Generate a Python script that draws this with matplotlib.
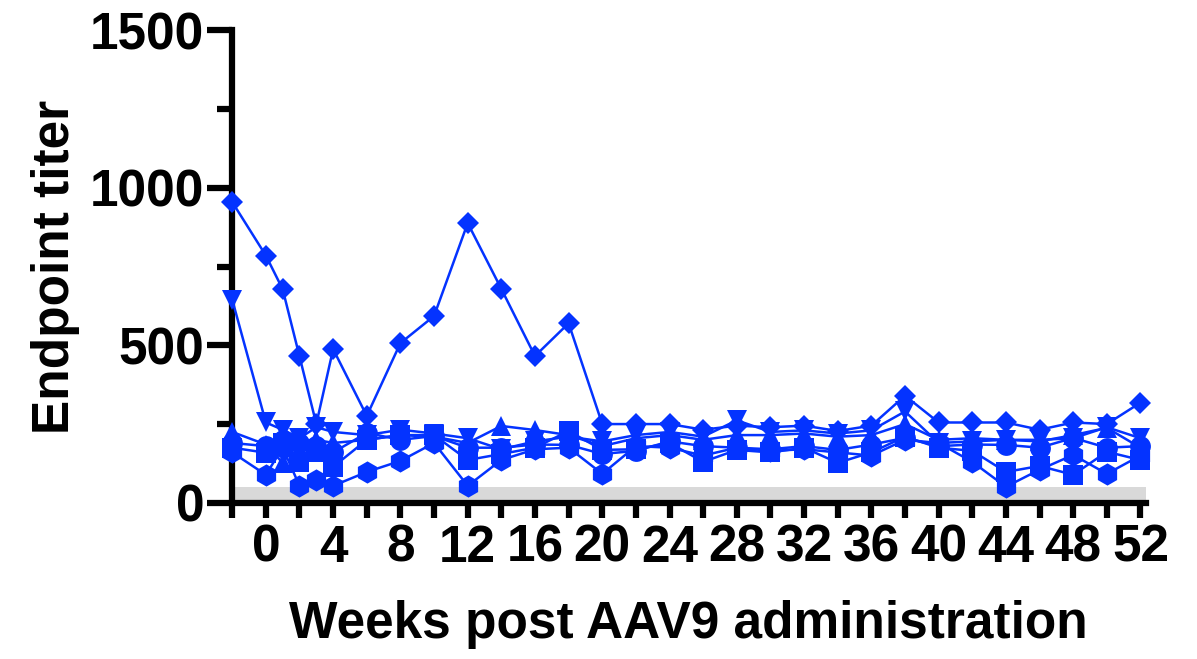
import matplotlib
matplotlib.use("Agg")
import matplotlib.pyplot as plt
from matplotlib.ticker import MultipleLocator

plt.rcParams['font.family'] = ['Liberation Sans', 'DejaVu Sans']
plt.rcParams['font.weight'] = 'bold'

# weeks post administration
weeks = [-2, 0, 1, 2, 3, 4, 6, 8, 10, 12, 14, 16, 18, 20, 22, 24, 26, 28, 30, 32,
         34, 36, 38, 40, 42, 44, 46, 48, 50, 52]

# endpoint titers, one list per animal (marker)
diamond = [955, 785, 678, 465, 250, 488, 276, 507, 593, 888, 679, 466, 570, 250, 250,
           250, 232, 245, 240, 245, 228, 245, 340, 255, 255, 255, 232, 255, 250, 318]
inv_triangle = [645, 255, 232, 205, 240, 225, 215, 232, 220, 205, 170, 195, 210, 195, 215,
                225, 210, 262, 225, 230, 220, 230, 290, 190, 195, 200, 200, 205, 240, 205]
triangle = [225, 185, 127, 195, 200, 190, 200, 215, 210, 190, 244, 231, 215, 180, 205,
            215, 200, 215, 215, 220, 210, 215, 250, 200, 205, 200, 195, 215, 238, 175]
square = [175, 159, 190, 130, 162, 114, 200, 215, 215, 136, 155, 175, 228, 168, 170,
          190, 130, 168, 160, 175, 127, 160, 210, 175, 165, 98, 117, 89, 162, 136]
circle = [190, 180, 200, 190, 180, 160, 222, 200, 212, 175, 175, 185, 184, 155, 165,
          195, 180, 175, 170, 180, 168, 185, 206, 180, 185, 184, 175, 206, 175, 180]
hexagon = [160, 89, 175, 54, 73, 54, 98, 133, 190, 54, 136, 170, 175, 92, 180,
           175, 150, 175, 165, 170, 160, 150, 200, 190, 130, 51, 105, 152, 92, 150]

series = [
    (hexagon, 'h', 16),
    (circle, 'o', 15),
    (square, 's', 14),
    (triangle, '^', 15),
    (inv_triangle, 'v', 15),
    (diamond, 'D', 11.5),
]

blue = '#0433FF'

fig = plt.figure(figsize=(11.97, 6.59), dpi=100)
ax = fig.add_axes([0.194, 0.237, 0.763, 0.717])

# limit of detection band
ax.axhspan(0, 50, color='#D9D9D9', zorder=0, lw=0)

for vals, m, ms in series:
    ax.plot(weeks, vals, color=blue, marker=m, markersize=ms, linewidth=1.8,
            markeredgewidth=0, clip_on=False, zorder=3)

ax.set_xlim(-2, 52.3)
ax.set_ylim(0, 1500)

ax.xaxis.set_major_locator(MultipleLocator(4))
ax.xaxis.set_minor_locator(MultipleLocator(2))
ax.yaxis.set_major_locator(MultipleLocator(500))
ax.yaxis.set_minor_locator(MultipleLocator(250))

for s in ['top', 'right']:
    ax.spines[s].set_visible(False)
for s in ['left', 'bottom']:
    ax.spines[s].set_linewidth(4.5)

ax.tick_params(axis='y', which='major', length=18, width=4.5, labelsize=37, pad=2)
ax.tick_params(axis='y', which='minor', length=11, width=4.5)
ax.tick_params(axis='x', which='both', length=11, width=4.5, labelsize=37, pad=4)

ax.set_xlabel('Weeks post AAV9 administration', fontsize=37, fontweight='bold', labelpad=20)
ax.set_ylabel('Endpoint titer', fontsize=37, fontweight='bold', labelpad=7)

fig.savefig('out.png', dpi=100)
